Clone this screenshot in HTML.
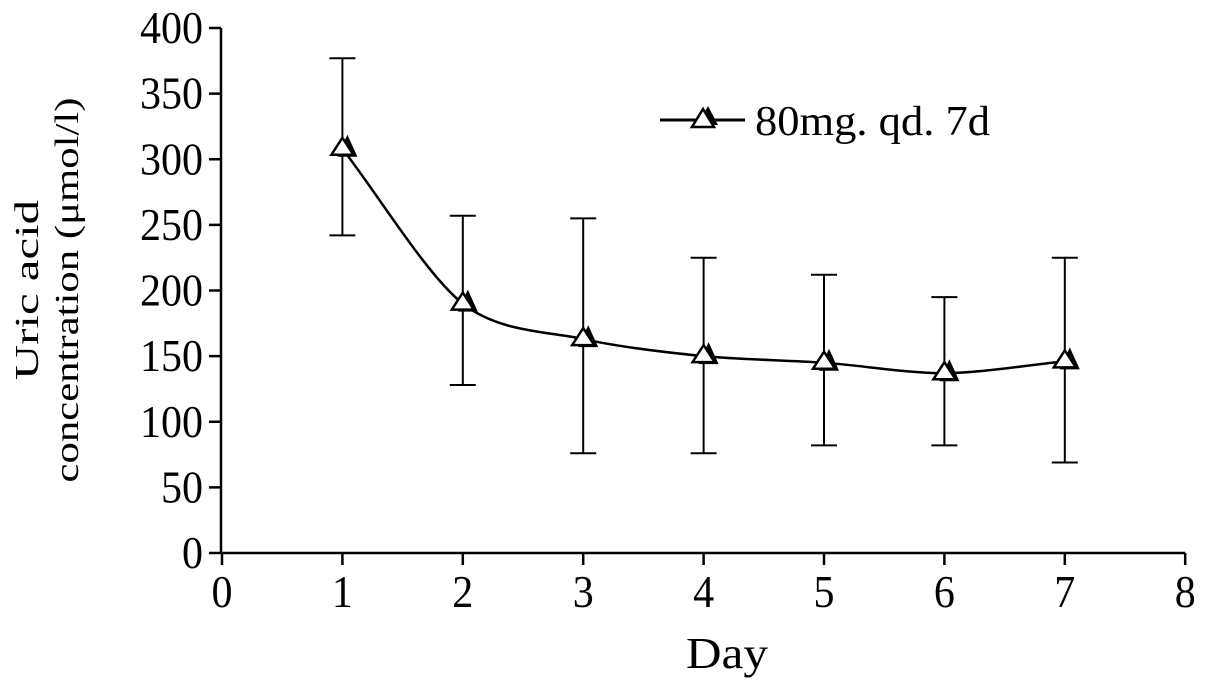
<!DOCTYPE html>
<html><head><meta charset="utf-8"><style>
body{margin:0;background:#fff;}
svg text{font-family:"Liberation Serif","Noto Serif CJK SC",serif;fill:#000;}
</style></head><body>
<svg id="chart" width="1205" height="686" viewBox="0 0 1205 686">
<g id="axes"></g><g id="series"></g>
<g>
<line x1="660" y1="120" x2="745" y2="120" stroke="#000" stroke-width="3"/>
<polygon points="708,106 698,125 718,125" fill="#000"/>
<polygon points="703,109 692,127 714,127" fill="#fff" stroke="#000" stroke-width="2.5"/>
<text x="755" y="135" font-size="42" textLength="235" lengthAdjust="spacingAndGlyphs">80mg. qd. 7d</text>
</g>
<text x="686" y="668" font-size="44" textLength="82" lengthAdjust="spacingAndGlyphs">Day</text>
<g transform="translate(38,290) rotate(-90)">
<text x="0" y="0" font-size="34" text-anchor="middle" textLength="180" lengthAdjust="spacingAndGlyphs" fill="#222">Uric acid</text>
<text x="0" y="40" font-size="34" text-anchor="middle" textLength="385" lengthAdjust="spacingAndGlyphs" fill="#222">concentration (μmol/l)</text>
</g>
</svg>
<script>
const days=[1,2,3,4,5,6,7];
const means=[308,190,163,150,145,137,146];
const lows=[242,128,76,76,82,82,69];
const highs=[377,257,255,225,212,195,225];
const yTicks=[0,50,100,150,200,250,300,350,400];
const xTicks=[0,1,2,3,4,5,6,7,8];
const NS='http://www.w3.org/2000/svg';
const X=v=>222+v*120.4;
const Y=v=>553-v*1.3125;
function mk(t,a,p){const e=document.createElementNS(NS,t);for(const k in a)e.setAttribute(k,a[k]);p.appendChild(e);return e;}
const ax=document.getElementById('axes'),se=document.getElementById('series');
let l=mk('line',{x1:221,y1:Y(400),x2:221,y2:553,stroke:'#000','stroke-width':2.5},ax);


l=mk('line',{x1:221,y1:553,x2:X(8),y2:553,stroke:'#000','stroke-width':2.5},ax);


yTicks.forEach(v=>{mk('line',{x1:209,y1:Y(v),x2:221,y2:Y(v),stroke:'#000','stroke-width':2.5},ax);
const s=String(v);
const t=mk('text',{x:203,y:Y(v)+15,'font-size':46,'text-anchor':'end',textLength:21*s.length,lengthAdjust:'spacingAndGlyphs'},ax);t.textContent=s;

});
xTicks.forEach(v=>{mk('line',{x1:X(v),y1:553,x2:X(v),y2:565,stroke:'#000','stroke-width':2.5},ax);
const t=mk('text',{x:X(v),y:607,'font-size':46,'text-anchor':'middle',textLength:21,lengthAdjust:'spacingAndGlyphs'},ax);t.textContent=v;

});
days.forEach((d,i)=>{const x=X(d);
const g=mk('g',{},se);


mk('line',{x1:x,y1:Y(lows[i]),x2:x,y2:Y(highs[i]),stroke:'#000','stroke-width':2},g);
mk('line',{x1:x-13,y1:Y(lows[i]),x2:x+13,y2:Y(lows[i]),stroke:'#000','stroke-width':2},g);
mk('line',{x1:x-13,y1:Y(highs[i]),x2:x+13,y2:Y(highs[i]),stroke:'#000','stroke-width':2},g);});
let dpath='';
for(let i=0;i<days.length;i++){const x=X(days[i]),y=Y(means[i]);
if(i===0)dpath='M'+x+','+y;else{const px=X(days[i-1]),py=Y(means[i-1]);const c=(x-px)*0.3;
const sl0=i>1?(y-Y(means[i-2]))/2:(y-py);const sl1=i<days.length-1?(Y(means[i+1])-py)/2:(y-py);
dpath+=' C'+(px+c)+','+(py+sl0*0.3)+' '+(x-c)+','+(y-sl1*0.3)+' '+x+','+y;}}
const ln=mk('path',{d:dpath,fill:'none',stroke:'#000','stroke-width':2.5},se);


days.forEach((d,i)=>{const x=X(d),y=Y(means[i]);
const g=mk('g',{},se);


mk('polygon',{points:`${x+5},${y-14} ${x-5},${y+8} ${x+15},${y+8}`,fill:'#000'},g);
mk('polygon',{points:`${x},${y-11} ${x-11},${y+6} ${x+11},${y+6}`,fill:'#fff',stroke:'#000','stroke-width':2.5},g);});
</script>
</body></html>
